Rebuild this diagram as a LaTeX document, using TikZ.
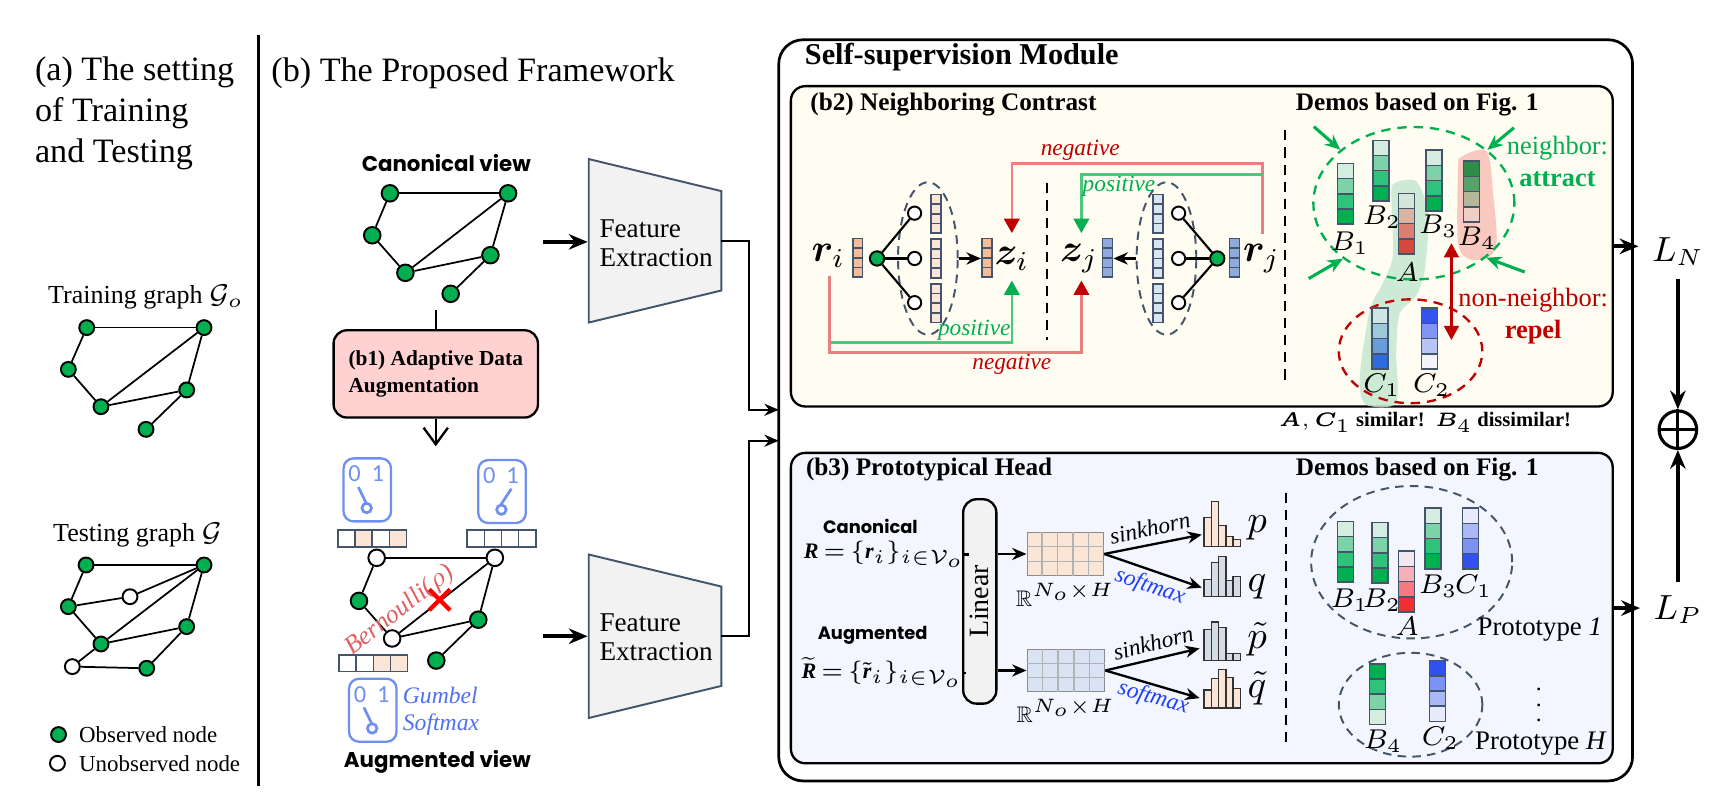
\documentclass[tikz,border=0pt]{standalone}
\usepackage{amsmath,amssymb}
\usepackage{fontspec}
\setmainfont{Liberation Serif}
\newfontfamily\handfont{Poppins}
\newfontfamily\switchfont{Carlito}
\usepackage{bm}
\usetikzlibrary{arrows.meta, positioning, calc, shapes.geometric, shapes.misc}
\definecolor{NodeGreen}{HTML}{00B050}
\definecolor{Navy}{HTML}{44546A}
\definecolor{PeachDark}{HTML}{F5BC98}
\definecolor{PeachLight}{HTML}{FBE5D6}
\definecolor{BlueMid}{HTML}{8FAADC}
\definecolor{BlueLight}{HTML}{DAE3F3}
\definecolor{AugPink}{HTML}{FFD1D1}
\definecolor{FeGray}{HTML}{F2F2F2}
\definecolor{SwBlue}{HTML}{7090F0}
\definecolor{GumBlue}{HTML}{4F6FF5}
\definecolor{BernRed}{HTML}{E06060}
\definecolor{NegRed}{HTML}{C00000}
\definecolor{NegLine}{HTML}{E98080}
\definecolor{PosGreen}{HTML}{00B050}
\definecolor{PosLine}{HTML}{4CC77E}
\definecolor{ContrastBg}{HTML}{FFFDF2}
\definecolor{ProtoBg}{HTML}{F3F6FE}
\definecolor{SoftBlue}{HTML}{1F3FFF}
\definecolor{HistGray}{HTML}{D6DCE5}
\definecolor{SimGreen}{HTML}{C5E8CF}
\definecolor{DisRed}{HTML}{F9C3BA}
\definecolor{GA}{HTML}{D5EDE0}
\definecolor{GB}{HTML}{7DD3A8}
\definecolor{GC}{HTML}{2EC27A}
\definecolor{GD}{HTML}{00B050}
\definecolor{NA1}{HTML}{D5E6D8}
\definecolor{NA2}{HTML}{D9B3A3}
\definecolor{NA3}{HTML}{D98070}
\definecolor{NA4}{HTML}{D44A3A}
\definecolor{NB1}{HTML}{2E8B4A}
\definecolor{NB2}{HTML}{5AA06A}
\definecolor{NB3}{HTML}{B5B898}
\definecolor{NB4}{HTML}{EECFC6}
\definecolor{NC1}{HTML}{CFE6E4}
\definecolor{NC2}{HTML}{9CC8DA}
\definecolor{NC3}{HTML}{6A9CDA}
\definecolor{NC4}{HTML}{2E6BE0}
\definecolor{QA}{HTML}{3355EE}
\definecolor{QB}{HTML}{8096F0}
\definecolor{QC}{HTML}{B8C4F4}
\definecolor{QD}{HTML}{F2F2F8}
\definecolor{PA1}{HTML}{F2E8F0}
\definecolor{PA2}{HTML}{F8B0B8}
\definecolor{PA3}{HTML}{F57A80}
\definecolor{PA4}{HTML}{F03030}
\definecolor{PC1}{HTML}{E8ECFA}
\definecolor{PC2}{HTML}{AAB8F8}
\definecolor{PC3}{HTML}{7C92F4}
\definecolor{PC4}{HTML}{3050F0}

% one column vector / one row vector / one histogram
\newcommand{\cellvec}[5]{%
  \foreach \cc [count=\kk from 0] in {#5}
    \draw[vcell, fill=\cc] (#1,#2+\kk*#4) rectangle ++(#3,#4);}
\newcommand{\cellrow}[5]{%
  \foreach \cc [count=\kk from 0] in {#5}
    \draw[vcell, fill=\cc] (#1+\kk*#3,#2) rectangle ++(#3,#4);}
\newcommand{\histo}[5]{%
  \foreach \hh [count=\kk from 0] in {#5}
    \draw[hbar, fill=#4] (#1+\kk*6.6,#2) rectangle ++(6.6,-\hh*#3);}
\newcommand{\bi}[1]{\text{\bfseries\itshape #1}}

\begin{document}
\begin{tikzpicture}[x=0.1mm, y=-0.1mm,
    obs/.style={circle, draw, line width=0.5pt, fill=NodeGreen, minimum size=1.35mm, inner sep=0pt},
    gedge/.style={line width=0.45pt},
    vcell/.style={draw=Navy, line width=0.4pt},
    hbar/.style={draw=black!80, line width=0.35pt},
    feed/.style={-{Stealth[length=1.7mm, width=1.4mm]}, line width=1pt},
    conn/.style={-{Stealth[length=1.3mm, width=1.1mm]}, line width=0.55pt},
    attr/.style={PosGreen, line width=0.8pt, -{Stealth[length=1.4mm, width=1.2mm]}},
    nbell/.style={ellipse, draw=Navy, line width=0.5pt, dash pattern=on 2.2pt off 1.6pt, inner sep=0pt},
    negline/.style={NegLine, line width=0.6pt, -{Triangle[length=1.3mm, width=1.4mm, color=NegRed]}},
    posline/.style={PosLine, line width=0.6pt, -{Triangle[length=1.3mm, width=1.4mm, color=PosGreen]}},
    sepline/.style={line width=0.55pt, dash pattern=on 2.6pt off 1.8pt},
    swbox/.style={draw=SwBlue, line width=0.6pt, rounded corners=0.9mm, minimum width=4.3mm, minimum height=5.7mm, inner sep=0pt},
    ttl/.style={font=\fontsize{8.8}{10.5}\selectfont, inner sep=0pt},
    btitle/.style={font=\bfseries\fontsize{6.5}{7.5}\selectfont, inner sep=0pt},
    glab/.style={font=\fontsize{6.7}{8}\selectfont, inner sep=0pt},
    leg/.style={font=\fontsize{5.9}{7}\selectfont, inner sep=0pt, anchor=west},
    lab/.style={font=\itshape\fontsize{6}{7}\selectfont, inner sep=0pt},
    bigm/.style={font=\fontsize{10}{12}\selectfont, inner sep=0pt},
    vl/.style={font=\fontsize{7}{8}\selectfont, inner sep=0pt},
    sm/.style={font=\fontsize{5.7}{7}\selectfont, inner sep=0pt},
    hand/.style={font=\handfont\bfseries\fontsize{4.6}{6}\selectfont, inner sep=0pt},
]
\useasboundingbox (0,0) rectangle (1568,730);

% ---------------- (a) training / testing ----------------
\node[ttl, anchor=north west, align=left] (atitle) at (31,51) {(a) The setting\\of Training\\and Testing};
\draw[line width=0.6pt] (234,32) -- (234,712);

\node[glab] (trlbl) at (132,269) {Training graph $\mathcal{G}_o$};
\foreach \n/\x/\y in {t1/78.5/296.6, t2/184.7/296.6, t3/61.9/334.4, t4/91.4/368.2, t5/169/353, t6/132.2/388.7}
    \node[obs] (\n) at (\x,\y) {};
\foreach \a/\b in {t1/t2, t1/t3, t3/t4, t4/t2, t4/t5, t5/t2, t5/t6}
    \draw[gedge] (\a) -- (\b);

\node[glab] (telbl) at (124.5,484) {Testing graph $\mathcal{G}$};
\foreach \n/\f/\x/\y in {m1/NodeGreen/77.9/511.5, m2/NodeGreen/184.7/511.5, m3/white/117.7/540.2,
    m4/NodeGreen/61.9/549.2, m5/NodeGreen/169/567.3, m6/NodeGreen/91.4/583,
    m7/white/65.5/603.5, m8/NodeGreen/132.8/605}
    \node[obs, fill=\f] (\n) at (\x,\y) {};
\foreach \a/\b in {m1/m2, m1/m4, m4/m3, m3/m2, m4/m6, m6/m2, m6/m5, m5/m2, m6/m7, m7/m8, m8/m5}
    \draw[gedge] (\a) -- (\b);

\node[obs] (legobs) at (53,665) {};
\node[leg] (legobst) at (71,665) {Observed node};
\node[obs, fill=white] (legun) at (52,691) {};
\node[leg] (leguntx) at (71,691) {Unobserved node};

% ---------------- (b) framework ----------------
\node[ttl, anchor=base west] (bttl) at (245,74) {(b) The Proposed Framework};

% canonical view
\node[font=\handfont\bfseries\fontsize{5.5}{7}\selectfont] (cvlbl) at (404,148) {Canonical view};
\foreach \n/\x/\y in {c1/353/175, c2/460/175, c3/337/213, c4/367/247, c5/444/231, c6/408/266}
    \node[obs, minimum size=1.5mm] (\n) at (\x,\y) {};
\foreach \a/\b in {c1/c2, c1/c3, c3/c4, c4/c2, c4/c5, c5/c2, c5/c6}
    \draw[gedge] (\a) -- (\b);

% adaptive augmentation
\node[draw, line width=0.6pt, fill=AugPink, rounded corners=1.2mm, minimum width=18.5mm, minimum height=7.9mm,
      align=left, inner sep=0.5mm, font=\bfseries\fontsize{5.5}{6.8}\selectfont] (b1) at (394.5,338.5)
    {(b1) Adaptive Data\\Augmentation};
\coordinate (cvend) at (394.5,281);
\coordinate (augtop) at (394.5,404);
\draw[gedge] (cvend) -- (b1.north);
\draw[-{Straight Barb[length=1.5mm, width=2.2mm]}, line width=0.6pt] (b1.south) -- (augtop);

% augmented view
\foreach \n/\f/\x/\y in {a1/white/341/505, a2/white/448/505, a3/NodeGreen/325/544,
    a4/white/355/578, a5/NodeGreen/433/561, a6/NodeGreen/395/598}
    \node[obs, fill=\f, minimum size=1.5mm] (\n) at (\x,\y) {};
\foreach \a/\b in {a1/a2, a1/a3, a3/a4, a4/a2, a4/a5, a5/a2, a5/a6}
    \draw[gedge] (\a) -- (\b);
\node[rotate=38, text=BernRed, font=\itshape\fontsize{6.6}{7}\selectfont] (bern) at (362,553) {Bernoulli($\rho$)};
\node[cross out, draw=red, line width=1.1pt, minimum size=1.5mm, inner sep=0pt] (cut) at (398,543) {};

\cellrow{306}{480}{15.5}{15}{white,PeachLight,white,PeachLight}
\cellrow{423}{480}{15.5}{15}{white,white,white,white}
\cellrow{307}{593}{15.5}{15}{white,white,PeachLight,PeachLight}

% switches
\foreach \nm/\x/\y/\lx in {swa/332.5/443.5/14.5, swb/454.5/445/31, swc/337.5/643/14.5} {
    \node[swbox] (\nm) at (\x,\y) {};
    \node[text=SwBlue, font=\switchfont\fontsize{6.3}{7}\selectfont] (\nm-0) at ($(\nm.north west)+(11,15)$) {0};
    \node[text=SwBlue, font=\switchfont\fontsize{6.3}{7}\selectfont] (\nm-1) at ($(\nm.north west)+(32,15)$) {1};
    \draw[SwBlue, line width=0.7pt] ($(\nm.north west)+(\lx,27)$) -- ($(\nm.north west)+(21.5,41.5)$);
    \draw[SwBlue, line width=0.7pt, fill=white] ($(\nm.north west)+(22,46)$) circle[radius=4.3];
}
\node[align=left, anchor=west, text=GumBlue, font=\itshape\fontsize{6.1}{7.1}\selectfont, inner sep=0pt] (gum) at (364,644) {Gumbel\\Softmax};
\node[font=\handfont\bfseries\fontsize{5.5}{7}\selectfont] (avlbl) at (396,690) {Augmented view};

% feature extraction
\draw[draw=Navy, fill=FeGray, line width=0.5pt] (533,144) -- (653,173) -- (653,263) -- (533,292) -- cycle;
\draw[draw=Navy, fill=FeGray, line width=0.5pt] (533,502) -- (653,531) -- (653,621) -- (533,650) -- cycle;
\node[align=left, font=\fontsize{7}{7.4}\selectfont] (fe1) at (594,220) {Feature\\Extraction};
\node[align=left, font=\fontsize{7}{7.4}\selectfont] (fe2) at (594,577) {Feature\\Extraction};
\coordinate (cvout) at (492,219);  \coordinate (fe1in) at (532,219);
\coordinate (avout) at (492,576);  \coordinate (fe2in) at (532,576);
\draw[feed] (cvout) -- (fe1in);
\draw[feed] (avout) -- (fe2in);

% ---------------- self-supervision module ----------------
\node[draw, line width=0.7pt, rounded corners=2.2mm, minimum width=77.3mm, minimum height=67.1mm, inner sep=0pt] (ssm) at (1091.5,371.5) {};
\node[anchor=west, font=\bfseries\fontsize{7.8}{9}\selectfont, inner sep=0pt] (ssmttl) at (728,52) {Self-supervision Module};
\coordinate (fe1out) at (653,218);  \coordinate (ssin1) at (705,371);
\coordinate (fe2out) at (653,576);  \coordinate (ssin2) at (705,399);
\draw[conn] (fe1out) -- ++(25,0) |- (ssin1);
\draw[conn] (fe2out) -- ++(25,0) |- (ssin2);

\node[draw, line width=0.6pt, rounded corners=1.3mm, fill=ContrastBg, minimum width=74.4mm, minimum height=29mm, inner sep=0pt] (nc) at (1088,223) {};
\node[draw, line width=0.6pt, rounded corners=1.3mm, fill=ProtoBg, minimum width=74.4mm, minimum height=28.1mm, inner sep=0pt] (ph) at (1088,550.5) {};

% --- (b2) neighboring contrast ---
\node[btitle, anchor=west] (ncttl) at (733,95) {(b2) Neighboring Contrast};
\node[nbell, minimum width=5.4mm, minimum height=13.8mm] (nbi) at (840,234) {};
\node[nbell, minimum width=5.4mm, minimum height=13.8mm] (nbj) at (1056,234) {};
\cellvec{772}{216}{9}{8.75}{PeachDark,PeachDark,PeachDark,PeachDark}
\cellvec{889}{216}{9}{8.75}{PeachDark,PeachDark,PeachDark,PeachDark}
\cellvec{998}{216}{9}{8.75}{BlueMid,BlueMid,BlueMid,BlueMid}
\cellvec{1113}{216}{9}{8.75}{BlueMid,BlueMid,BlueMid,BlueMid}
\foreach \y in {176,216.5,257} {
    \cellvec{843}{\y}{9}{8.75}{PeachLight,PeachLight,PeachLight,PeachLight}
    \cellvec{1044}{\y}{9}{8.75}{BlueLight,BlueLight,BlueLight,BlueLight}
}
\node[obs, minimum size=1.3mm] (gi) at (794,234) {};
\node[obs, minimum size=1.3mm] (gj) at (1102,234) {};
\foreach \k/\y in {1/193, 2/234, 3/274} {
    \node[obs, fill=white, minimum size=1.2mm] (wi\k) at (828,\y) {};
    \node[obs, fill=white, minimum size=1.2mm] (wj\k) at (1067,\y) {};
    \draw[gedge, line width=0.55pt] (gi) -- (wi\k);
    \draw[gedge, line width=0.55pt] (gj) -- (wj\k);
}
\node[bigm] (lri) at (750,232) {$\bm{r}_i$};
\node[bigm] (lzi) at (916,234) {$\bm{z}_i$};
\node[bigm] (lzj) at (977,234) {$\bm{z}_j$};
\node[bigm] (lrj) at (1142,234) {$\bm{r}_j$};
\coordinate (zivec) at (888,234);
\coordinate (zjvec) at (1008,234);
\draw[conn, line width=0.8pt] (nbi.east) -- (zivec);
\draw[conn, line width=0.8pt] (nbj.west) -- (zjvec);
\draw[sepline] (948,166) -- (948,308);
\draw[sepline] (1163,118) -- (1163,347);

\coordinate (rjtop) at (1143,212);  \coordinate (ribot) at (751,250);
\coordinate (zitop) at (916,211);   \coordinate (zibot) at (916,254);
\coordinate (zjtop) at (979,211);   \coordinate (zjbot) at (979,254);
\coordinate (railnt) at (0,148);    \coordinate (railpt) at (0,158);
\coordinate (railpb) at (0,310);    \coordinate (railnb) at (0,319);
\draw[negline] (rjtop) |- (zitop |- railnt) -- (zitop);
\draw[posline] (rjtop |- railpt) -| (zjtop);
\draw[posline] (ribot) |- (zibot |- railpb) -- (zibot);
\draw[negline] (ribot) |- (zjbot |- railnb) -- (zjbot);
\node[lab, text=NegRed] (negt) at (978,136) {negative};
\node[lab, text=PosGreen] (post) at (1013,169) {positive};
\node[lab, text=PosGreen] (posb) at (882,299) {positive};
\node[lab, text=NegRed] (negb) at (916,330) {negative};

% demos (neighboring)
\node[btitle] (demo1) at (1283,95) {Demos based on Fig. 1};
\fill[SimGreen, opacity=0.85] plot[smooth cycle, tension=0.45] coordinates {
    (1261,167) (1282,164) (1293,193) (1290,244) (1282,268) (1267,284) (1264,320)
    (1264,365) (1236,366) (1231,341) (1240,281) (1252,256) (1261,232) (1260,190)};
\fill[DisRed, opacity=0.9] plot[smooth cycle, tension=0.5] coordinates {
    (1323,142) (1346,137) (1352,178) (1355,217) (1349,232) (1331,235) (1320,220) (1320,154)};
\node[ellipse, draw=PosGreen, line width=0.6pt, dash pattern=on 2.4pt off 1.8pt, minimum width=18.2mm, minimum height=13.8mm, inner sep=0pt] (nbr) at (1280,184) {};
\node[ellipse, draw=NegRed, line width=0.6pt, dash pattern=on 2.4pt off 1.8pt, minimum width=13mm, minimum height=9.4mm, inner sep=0pt] (nonnbr) at (1277,318) {};
\foreach \ang/\dx/\dy in {144/-24/-21, 36/24/-20, 218/-31/18, 323/35/13}
    \draw[attr] ($(nbr.\ang)+(\dx,\dy)$) -- (nbr.\ang);
\cellvec{1211}{148}{14.5}{13.75}{GA,GB,GC,GD}
\cellvec{1243}{127}{14.5}{13.75}{GA,GB,GC,GD}
\cellvec{1266}{175}{14.5}{13.75}{NA1,NA2,NA3,NA4}
\cellvec{1291}{136}{14.5}{13.75}{GA,GB,GC,GD}
\cellvec{1325}{146}{14.5}{13.75}{NB1,NB2,NB3,NB4}
\cellvec{1242}{279}{14.5}{13.75}{NC1,NC2,NC3,NC4}
\cellvec{1287}{279}{14.5}{13.75}{QA,QB,QC,QD}
\node[vl] (db1) at (1222,220) {$B_1$};
\node[vl] (db2) at (1251,197) {$B_2$};
\node[vl] (dla) at (1274,246) {$A$};
\node[vl] (db3) at (1302,205) {$B_3$};
\node[vl] (db4) at (1337,216) {$B_4$};
\node[vl] (dc1) at (1251,349) {$C_1$};
\node[vl] (dc2) at (1296,349) {$C_2$};
\coordinate (rpa) at (1314,220);  \coordinate (rpb) at (1314,308);
\draw[NegRed, line width=0.9pt, {Triangle[length=1.3mm, width=1.3mm]}-{Triangle[length=1.3mm, width=1.3mm]}] (rpa) -- (rpb);
\node[align=center, text=PosGreen, font=\fontsize{6.8}{8.3}\selectfont, inner sep=0pt] (attract) at (1410,146) {neighbor:\\\textbf{attract}};
\node[align=center, text=NegRed, font=\fontsize{6.8}{8.3}\selectfont, inner sep=0pt] (repel) at (1388,286) {non-neighbor:\\\textbf{repel}};
\node[font=\bfseries\fontsize{5.3}{6}\selectfont, inner sep=0pt] (simnote) at (1290,382) {$\bm{A},\bm{C}_1$ similar!\enspace $\bm{B}_4$ dissimilar!};

% --- (b3) prototypical head ---
\node[btitle, anchor=west] (phttl) at (729,425) {(b3) Prototypical Head};
\node[hand] (canw) at (788,477) {Canonical};
\node[sm, anchor=west] (Rc) at (727,502) {$\bi{R}\,{=}\,\{\bi{r}_i\}_{i\in\mathcal{V}_o}$};
\node[hand] (augw) at (790,575) {Augmented};
\node[sm, anchor=west] (Ra) at (725,609) {$\widetilde{\bi{R}}\,{=}\,\{\tilde{\bi{r}}_i\}_{i\in\mathcal{V}_o}$};
\node[draw, line width=0.6pt, fill=FeGray, rounded corners=1.2mm, minimum width=3mm, minimum height=18.5mm, inner sep=0pt] (lin) at (887,544.5) {};
\node[rotate=90, font=\fontsize{7.2}{8}\selectfont] (lintxt) at (lin.center) {Linear};
\draw[gedge, line width=0.55pt] ($(Rc.east)+(3,0)$) -- (Rc.east -| lin.west);
\draw[gedge, line width=0.55pt] ($(Ra.east)+(3,0)$) -- (Ra.east -| lin.west);

\node[draw=black!45, line width=0.4pt, fill=PeachLight, minimum width=6.9mm, minimum height=3.9mm, inner sep=0pt] (mtx1) at (964.5,501.5) {};
\node[draw=black!45, line width=0.4pt, fill=BlueLight, minimum width=7mm, minimum height=3.8mm, inner sep=0pt] (mtx2) at (965,607) {};
\foreach \m in {mtx1, mtx2} {
    \foreach \k in {1,...,4}
        \draw[black!30, line width=0.35pt] ($(\m.north west)!\k/5!(\m.north east)$) -- ($(\m.south west)!\k/5!(\m.south east)$);
    \foreach \k in {1,2}
        \draw[black!30, line width=0.35pt] ($(\m.north west)!\k/3!(\m.south west)$) -- ($(\m.north east)!\k/3!(\m.south east)$);
}
\draw[conn, line width=0.6pt] (lin.east |- mtx1.west) -- (mtx1.west);
\draw[conn, line width=0.6pt] (lin.east |- mtx2.west) -- (mtx2.west);
\node[font=\fontsize{5.8}{7}\selectfont, inner sep=0pt, below=0.6mm of mtx1] (rdim1) {$\mathbb{R}^{N_o\times H}$};
\node[font=\fontsize{5.8}{7}\selectfont, inner sep=0pt, below=0.6mm of mtx2] (rdim2) {$\mathbb{R}^{N_o\times H}$};

\coordinate (hp) at (1088,484);   \coordinate (hq) at (1088,532);
\coordinate (hpt) at (1086,587);  \coordinate (hqt) at (1086,632);
\draw[conn, line width=0.6pt] (mtx1.east) -- (hp);
\draw[conn, line width=0.6pt] (mtx1.east) -- (hq);
\draw[conn, line width=0.6pt] (mtx2.east) -- (hpt);
\draw[conn, line width=0.6pt] (mtx2.east) -- (hqt);
\node[lab, rotate=12] (sk1) at (1041,478) {sinkhorn};
\node[lab, rotate=-19, text=SoftBlue] (sm1) at (1041,531) {softmax};
\node[lab, rotate=14] (sk2) at (1044,582) {sinkhorn};
\node[lab, rotate=-16, text=SoftBlue] (sm2) at (1044,632) {softmax};

\histo{1090}{495}{41}{PeachLight}{0.64,1,0.47,0.23,0.16}
\histo{1090}{540}{36}{HistGray}{0.42,0.85,1,0.4,0.5}
\histo{1090}{598}{35}{HistGray}{0.8,1,0.86,0.19,0.19}
\histo{1090}{641}{35}{PeachLight}{0.47,0.76,1,0.79,0.5}
\node[bigm] (lp) at (1138,478) {$p$};
\node[bigm] (lq) at (1138,531) {$q$};
\node[bigm] (lpt) at (1138,579) {$\tilde{p}$};
\node[bigm] (lqt) at (1138,623) {$\tilde{q}$};
\draw[sepline] (1164,446) -- (1164,676);

% demos (prototypes)
\node[btitle] (demo2) at (1283,425) {Demos based on Fig. 1};
\node[nbell, minimum width=18.2mm, minimum height=13.8mm] (proto1) at (1278,509) {};
\node[nbell, minimum width=13mm, minimum height=9.4mm] (protoh) at (1277,638) {};
\cellvec{1211}{472}{14.5}{13.75}{GA,GB,GC,GD}
\cellvec{1242}{473}{14.5}{13.75}{GA,GB,GC,GD}
\cellvec{1266}{499}{14.5}{13.75}{PA1,PA2,PA3,PA4}
\cellvec{1290}{460}{14.5}{13.75}{GA,GB,GC,GD}
\cellvec{1324}{460}{14.5}{13.75}{PC1,PC2,PC3,PC4}
\cellvec{1240}{601}{14.5}{13.75}{GD,GC,GB,GA}
\cellvec{1294}{598}{14.5}{13.75}{PC4,PC3,PC2,PC1}
\node[vl] (pb1) at (1222,543) {$B_1$};
\node[vl] (pb2) at (1251,543) {$B_2$};
\node[vl] (pla) at (1274,567) {$A$};
\node[vl] (pb3) at (1302,531) {$B_3$};
\node[vl] (pc1) at (1334,531) {$C_1$};
\node[vl] (pb4) at (1252,671) {$B_4$};
\node[vl] (pc2) at (1304,668) {$C_2$};
\node[font=\fontsize{6.9}{8}\selectfont, inner sep=0pt] (p1lbl) at (1394,570) {Prototype \textit{1}};
\node[font=\fontsize{6.9}{8}\selectfont, inner sep=0pt] (phlbl) at (1395,673) {Prototype \textit{H}};
\node[font=\fontsize{6}{6}\selectfont, inner sep=0pt] (vd) at (1393,628) {$\vdots$};

% ---------------- losses ----------------
\node[font=\fontsize{8.8}{10}\selectfont] (ln) at (1519,228) {$L_N$};
\node[font=\fontsize{8.8}{10}\selectfont] (lpn) at (1519,552) {$L_P$};
\node[circle, draw, line width=0.8pt, minimum size=3.4mm, inner sep=0pt] (oplus) at (1519,389) {};
\draw[line width=0.8pt] (oplus.north) -- (oplus.south) (oplus.west) -- (oplus.east);
\draw[feed] (nc.east) -- (nc.east -| ln.west);
\draw[feed] (ph.east) -- (ph.east -| lpn.west);
\draw[feed] (ln.south) -- (oplus.north);
\draw[feed] (lpn.north) -- (oplus.south);
\end{tikzpicture}
\end{document}
